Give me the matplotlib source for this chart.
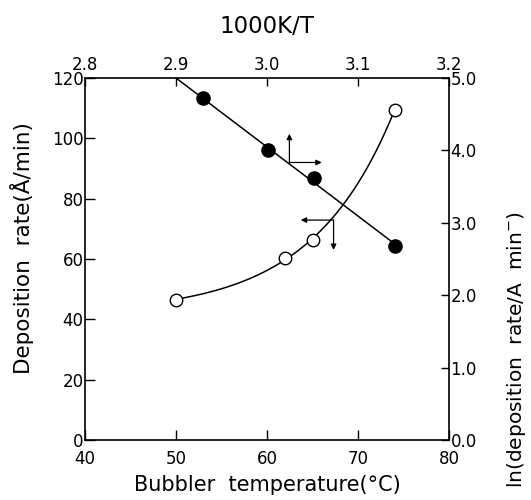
import numpy as np
import matplotlib
matplotlib.use("Agg")
import matplotlib.pyplot as plt
from matplotlib.ticker import FormatStrFormatter

# open circles: bubbler temperature (C) vs deposition rate (A/min)
temp_c = [50, 62, 65, 74]
dep_rate = [46.5, 60.4, 66.3, 109.4]

# filled circles: 1000K/T vs ln(deposition rate)
inv_t = [2.930, 3.001, 3.051, 3.141]
ln_rate = [4.72, 4.00, 3.62, 2.68]

plt.rcParams["font.family"] = "DejaVu Sans"

fig = plt.figure(figsize=(5.31, 5.0), dpi=100)
rect = [0.160, 0.120, 0.686, 0.724]
ax = fig.add_axes(rect)
ax2 = fig.add_axes(rect, frame_on=False)

# ── bottom / left axes (open circles), smooth y = a + b*exp(k*t) fit ──
t = np.array(temp_c, float) - temp_c[0]
y = np.array(dep_rate, float)
best = None
for k in np.linspace(0.01, 0.3, 600):
    A = np.column_stack([np.ones_like(t), np.exp(k * t)])
    coef, res, *_ = np.linalg.lstsq(A, y, rcond=None)
    err = np.sum((A @ coef - y) ** 2)
    if best is None or err < best[0]:
        best = (err, k, coef)
_, k, coef = best
xs = np.linspace(temp_c[0], temp_c[-1], 200)
ax.plot(xs, coef[0] + coef[1] * np.exp(k * (xs - temp_c[0])), color="black", lw=1.1, zorder=2)
ax.plot(temp_c, dep_rate, "o", ms=9, mfc="white", mec="black", mew=1.0, zorder=3)

ax.set_xlim(40, 80)
ax.set_ylim(0, 120)
ax.set_xticks([40, 50, 60, 70, 80])
ax.set_yticks([0, 20, 40, 60, 80, 100, 120])
ax.set_xlabel("Bubbler  temperature(\u00b0C)", fontsize=15, labelpad=5)
ax.set_ylabel("Deposition  rate(\u00c5/min)", fontsize=15.5)
ax.yaxis.set_label_coords(-0.14, 0.53)

# ── top / right axes (filled circles) ──
lf = np.polyfit(inv_t, ln_rate, 1)
ax2.plot([2.9, inv_t[-1]], [5.0, np.polyval(lf, inv_t[-1])], color="black", lw=1.1, zorder=2)
ax2.plot(inv_t, ln_rate, "o", ms=9.5, color="black", zorder=3)

ax2.set_xlim(2.8, 3.2)
ax2.set_ylim(0.0, 5.0)
ax2.xaxis.tick_top()
ax2.xaxis.set_label_position("top")
ax2.yaxis.tick_right()
ax2.yaxis.set_label_position("right")
ax2.set_xticks([2.8, 2.9, 3.0, 3.1, 3.2])
ax2.set_yticks([0.0, 1.0, 2.0, 3.0, 4.0, 5.0])
ax2.xaxis.set_major_formatter(FormatStrFormatter("%.1f"))
ax2.yaxis.set_major_formatter(FormatStrFormatter("%.1f"))
ax2.set_xlabel("1000K/T", fontsize=16.5)
ax2.xaxis.set_label_coords(0.5, 1.125)
ax2.set_ylabel("ln(deposition  rate/A  min$^{-}$)", fontsize=14.5)
ax2.yaxis.set_label_coords(1.152, 0.25)

ax.tick_params(direction="in", length=7, width=1.0, labelsize=12)
ax.tick_params(axis="y", pad=1)
ax.tick_params(axis="x", pad=7)
ax2.tick_params(direction="in", length=6, width=1.0, labelsize=12)
ax2.tick_params(axis="y", pad=1)
ax2.tick_params(axis="x", pad=3)
for s in ax.spines.values():
    s.set_linewidth(1.2)

# axis indicator arrows
arr = dict(arrowstyle="-|>", color="black", lw=0.9, mutation_scale=8, shrinkA=0, shrinkB=0)
ax.annotate("", xy=(62.45, 101.5), xytext=(62.45, 92.0), arrowprops=arr)
ax.annotate("", xy=(66.0, 92.0), xytext=(62.45, 92.0), arrowprops=arr)
ax.annotate("", xy=(63.7, 72.9), xytext=(67.3, 72.9), arrowprops=arr)
ax.annotate("", xy=(67.3, 63.0), xytext=(67.3, 72.9), arrowprops=arr)

fig.savefig("out.png", dpi=100)
